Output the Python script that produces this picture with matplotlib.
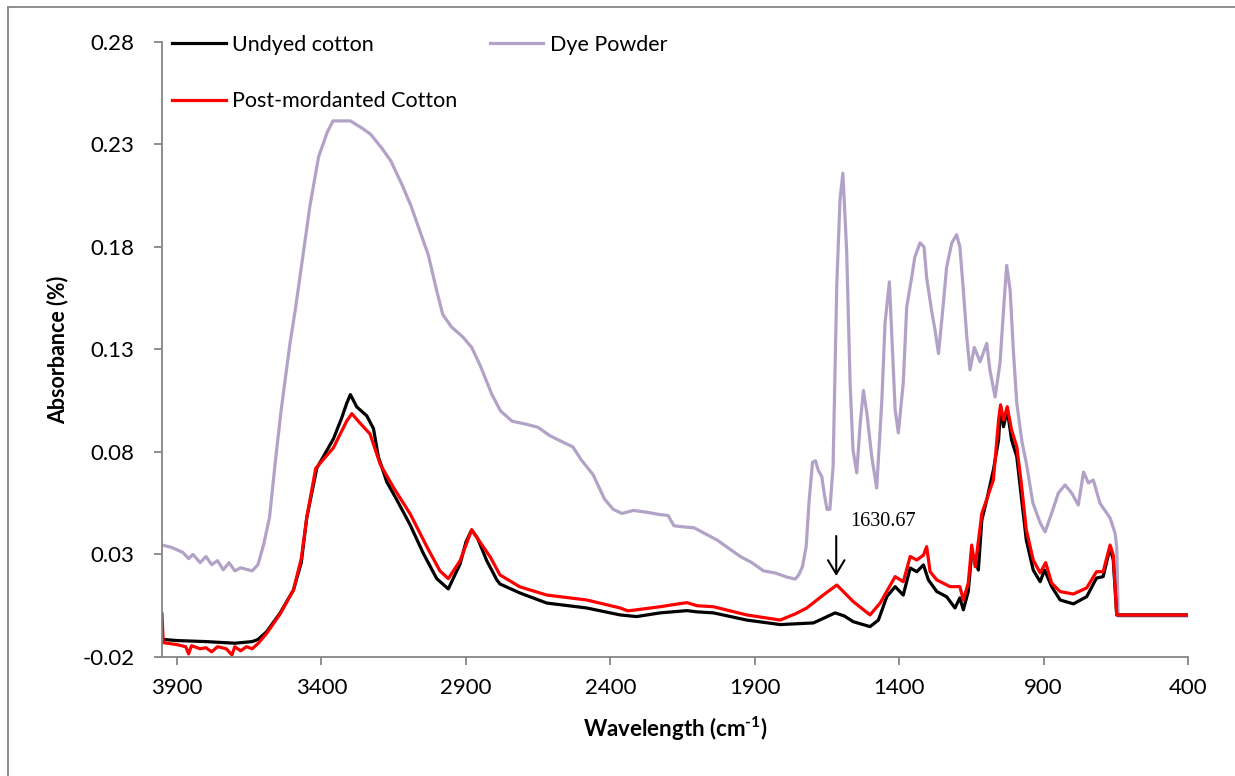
import numpy as np
import matplotlib.pyplot as plt
from matplotlib.lines import Line2D

plt.rcParams['font.family'] = ['Lato', 'DejaVu Sans']
plt.rcParams['mathtext.fontset'] = 'custom'
plt.rcParams['mathtext.rm'] = 'Lato'
plt.rcParams['mathtext.bf'] = 'Lato:bold'

# Dye powder spectrum (wavenumber, absorbance)
dye_wn = [3952, 3920, 3880, 3860, 3845, 3820, 3800, 3780, 3760, 3740, 3720, 3700, 3680,
          3640, 3620, 3600, 3580, 3560, 3540, 3510, 3490, 3470, 3440, 3410, 3380, 3360,
          3300, 3260, 3230, 3190, 3160, 3120, 3090, 3060, 3030, 3000, 2980, 2950, 2910,
          2880, 2850, 2810, 2780, 2740, 2690, 2650, 2610, 2560, 2530, 2500, 2460, 2420,
          2390, 2360, 2320, 2270, 2230, 2200, 2180, 2150, 2110, 2070, 2030, 1990, 1950,
          1910, 1870, 1830, 1790, 1760, 1748, 1735, 1722, 1712, 1700, 1690, 1680, 1668,
          1660, 1650, 1640, 1629, 1616, 1605, 1595, 1582, 1570, 1560, 1547, 1535, 1524,
          1512, 1495, 1478, 1460, 1449, 1434, 1426, 1414, 1403, 1386, 1374, 1357, 1346,
          1328, 1314, 1305, 1288, 1276, 1264, 1247, 1236, 1218, 1201, 1190, 1178, 1166,
          1155, 1140, 1120, 1097, 1086, 1068, 1051, 1039, 1028, 1016, 1005, 993, 975,
          960, 937, 912, 895, 872, 849, 826, 803, 780, 762, 745, 728, 705, 670, 653,
          647, 642, 400]
dye_abs = [0.0346, 0.0335, 0.031, 0.028, 0.030, 0.026, 0.029, 0.025, 0.027, 0.0225, 0.026,
           0.022, 0.0235, 0.022, 0.025, 0.035, 0.048, 0.075, 0.100, 0.132, 0.150, 0.170,
           0.200, 0.224, 0.236, 0.2415, 0.2415, 0.238, 0.235, 0.228, 0.222, 0.210, 0.200,
           0.188, 0.176, 0.158, 0.147, 0.141, 0.136, 0.131, 0.122, 0.108, 0.100, 0.095,
           0.0935, 0.092, 0.088, 0.0845, 0.0825, 0.076, 0.069, 0.057, 0.052, 0.050,
           0.0515, 0.0505, 0.0495, 0.049, 0.044, 0.0435, 0.043, 0.040, 0.037, 0.033,
           0.029, 0.026, 0.022, 0.021, 0.019, 0.018, 0.020, 0.024, 0.034, 0.056, 0.075,
           0.0757, 0.071, 0.068, 0.060, 0.052, 0.052, 0.0727, 0.162, 0.203, 0.216,
           0.1785, 0.1137, 0.081, 0.0698, 0.094, 0.110, 0.099, 0.0776, 0.0624, 0.1054,
           0.143, 0.163, 0.138, 0.1005, 0.0893, 0.1137, 0.1507, 0.165, 0.175, 0.182,
           0.180, 0.165, 0.149, 0.1395, 0.128, 0.1527, 0.170, 0.182, 0.186, 0.180,
           0.159, 0.136, 0.120, 0.131, 0.124, 0.133, 0.120, 0.1068, 0.1234, 0.149,
           0.171, 0.159, 0.1298, 0.1039, 0.085, 0.0746, 0.055, 0.0454, 0.041, 0.0502,
           0.060, 0.0639, 0.060, 0.0541, 0.0702, 0.0649, 0.0663, 0.055, 0.0478, 0.0405,
           0.0337, 0.0, 0.0]

# Undyed cotton
undyed_wn = [3952, 3900, 3800, 3700, 3640, 3620, 3590, 3543, 3497, 3470, 3451, 3416, 3394,
             3359, 3330, 3313, 3300, 3278, 3243, 3220, 3203, 3174, 3139, 3093, 3047, 3001,
             2961, 2920, 2900, 2880, 2860, 2828, 2793, 2782, 2713, 2620, 2482, 2366, 2309,
             2228, 2135, 2100, 2043, 1928, 1812, 1697, 1660, 1622, 1590, 1559, 1501, 1472,
             1443, 1414, 1386, 1362, 1339, 1316, 1299, 1270, 1236, 1207, 1190, 1178, 1161,
             1149, 1137, 1126, 1114, 1097, 1074, 1056, 1049, 1039, 1026, 1011, 993, 976,
             960, 936, 912, 897, 872, 843, 797, 751, 717, 694, 670, 659, 647, 400]
undyed_abs = [-0.0114, -0.0120, -0.0125, -0.0133, -0.0125, -0.0115, -0.0077, 0.0015, 0.0127,
              0.026, 0.0479, 0.0722, 0.0776, 0.0863, 0.0966, 0.1036, 0.108, 0.102, 0.0976,
              0.0914, 0.0776, 0.0654, 0.0566, 0.0444, 0.0304, 0.0182, 0.0132, 0.0254, 0.036,
              0.042, 0.038, 0.027, 0.0176, 0.0156, 0.0112, 0.0063, 0.0039, 0.0005, -0.0003,
              0.0015, 0.0026, 0.0020, 0.0015, -0.0020, -0.0042, -0.0034, -0.001, 0.0015,
              0.000, -0.0028, -0.0052, -0.002, 0.0094, 0.0143, 0.0102, 0.0234, 0.0216,
              0.0249, 0.0176, 0.0119, 0.0094, 0.0039, 0.0088, 0.003, 0.0119, 0.0307, 0.0273,
              0.0224, 0.0468, 0.0566, 0.0712, 0.0859, 0.1021, 0.0923, 0.1005, 0.0859,
              0.0777, 0.0566, 0.037, 0.0224, 0.0167, 0.0224, 0.0143, 0.0078, 0.0059, 0.0094,
              0.0185, 0.0192, 0.0332, 0.0273, 0.0005, 0.0005]

# Post-mordanted cotton
post_wn = [3952, 3948, 3900, 3870, 3860, 3850, 3820, 3800, 3780, 3760, 3730, 3710, 3700,
           3680, 3660, 3640, 3620, 3590, 3543, 3497, 3470, 3451, 3420, 3359, 3313, 3295,
           3266, 3232, 3197, 3151, 3093, 3036, 2990, 2961, 2920, 2880, 2816, 2782, 2713,
           2620, 2482, 2366, 2340, 2309, 2228, 2160, 2135, 2100, 2043, 1928, 1812, 1760,
           1720, 1663, 1616, 1559, 1501, 1466, 1414, 1386, 1362, 1339, 1316, 1305, 1293,
           1270, 1224, 1190, 1178, 1161, 1149, 1137, 1114, 1074, 1056, 1049, 1039, 1026,
           1011, 993, 976, 960, 936, 912, 893, 872, 843, 797, 751, 717, 694, 670, 659,
           647, 400]
post_abs = [0.0010, -0.013, -0.0140, -0.0150, -0.0185, -0.0145, -0.016, -0.0155, -0.0175,
            -0.0150, -0.0160, -0.0190, -0.0150, -0.0170, -0.0150, -0.0160, -0.0135,
            -0.0085, 0.0010, 0.0127, 0.028, 0.048, 0.072, 0.082, 0.095, 0.0987, 0.094,
            0.0888, 0.0741, 0.0627, 0.0498, 0.034, 0.022, 0.0182, 0.027, 0.042, 0.0288,
            0.020, 0.0142, 0.0102, 0.0078, 0.0039, 0.0025, 0.0030, 0.0045, 0.0060, 0.0065,
            0.0050, 0.0045, 0.0005, -0.002, 0.001, 0.0039, 0.0102, 0.0151, 0.007, 0.0005,
            0.0063, 0.0192, 0.0167, 0.029, 0.0273, 0.0297, 0.0338, 0.0216, 0.0176, 0.0143,
            0.0143, 0.0078, 0.016, 0.0346, 0.024, 0.050, 0.0663, 0.0956, 0.103, 0.0956,
            0.1021, 0.0907, 0.0826, 0.063, 0.042, 0.0273, 0.021, 0.026, 0.016, 0.0119,
            0.0107, 0.0137, 0.0216, 0.0216, 0.0346, 0.0297, 0.0005, 0.0005]

x_ticks = [3900, 3400, 2900, 2400, 1900, 1400, 900, 400]
y_ticks = [-0.02, 0.03, 0.08, 0.13, 0.18, 0.23, 0.28]

grey = '#868686'

fig = plt.figure(figsize=(12.35, 7.76), dpi=100)
ax = fig.add_axes([0.1312, 0.1534, 0.8308, 0.7925])

l_dye, = ax.plot(dye_wn, dye_abs, color='#B3A2C7', lw=2.3, label='Dye Powder')
l_und, = ax.plot(undyed_wn, undyed_abs, color='black', lw=2.3, label='Undyed cotton')
l_post, = ax.plot(post_wn, post_abs, color='#FF0000', lw=2.3, label='Post-mordanted Cotton')

ax.set_xlim(3952, 400)
ax.set_ylim(-0.02, 0.28)
ax.set_xticks(x_ticks)
ax.set_yticks(y_ticks)
ax.set_yticklabels(['%.2f' % v for v in y_ticks])

for s in ['top', 'right']:
    ax.spines[s].set_visible(False)
for s in ['left', 'bottom']:
    ax.spines[s].set_color(grey)
    ax.spines[s].set_linewidth(1.3)
ax.tick_params(direction='out', length=6, width=1.3, color=grey, labelsize=16,
               labelcolor='black')
ax.tick_params(axis='x', pad=9)
ax.tick_params(axis='y', pad=14)

ax.set_xlabel('Wavelength (cm$^{\\mathbf{\u20101}}$)', fontsize=16, fontweight='bold',
              labelpad=12)
ax.set_ylabel('Absorbance (%)', fontsize=15.5, fontweight='bold', labelpad=10)

# annotation of the 1630 band
ax.annotate('', xy=(1618, 0.0195), xytext=(1618, 0.0390),
            arrowprops=dict(arrowstyle='->,head_length=0.55,head_width=0.33', color='black',
                            lw=1.5, mutation_scale=18, shrinkA=0, shrinkB=0))
ax.text(1456, 0.0463, '1630.67', fontsize=14.5, family='Liberation Serif',
        ha='center', va='center')

leg = ax.legend(handles=[l_und, l_post, l_dye], ncol=2, frameon=False, fontsize=15.5,
                loc='upper left', bbox_to_anchor=(0.0095, 1.012), borderaxespad=0,
                borderpad=0, handlelength=2.5, handletextpad=0.3, labelspacing=1.7,
                columnspacing=1.5)

# outer chart border
fig.add_artist(Line2D([8 / 1235, 8 / 1235], [0, 1 - 7 / 776], color=grey, lw=1.3))
fig.add_artist(Line2D([8 / 1235, 1], [1 - 7 / 776, 1 - 7 / 776], color=grey, lw=1.3))

fig.savefig('out.png', dpi=100)
